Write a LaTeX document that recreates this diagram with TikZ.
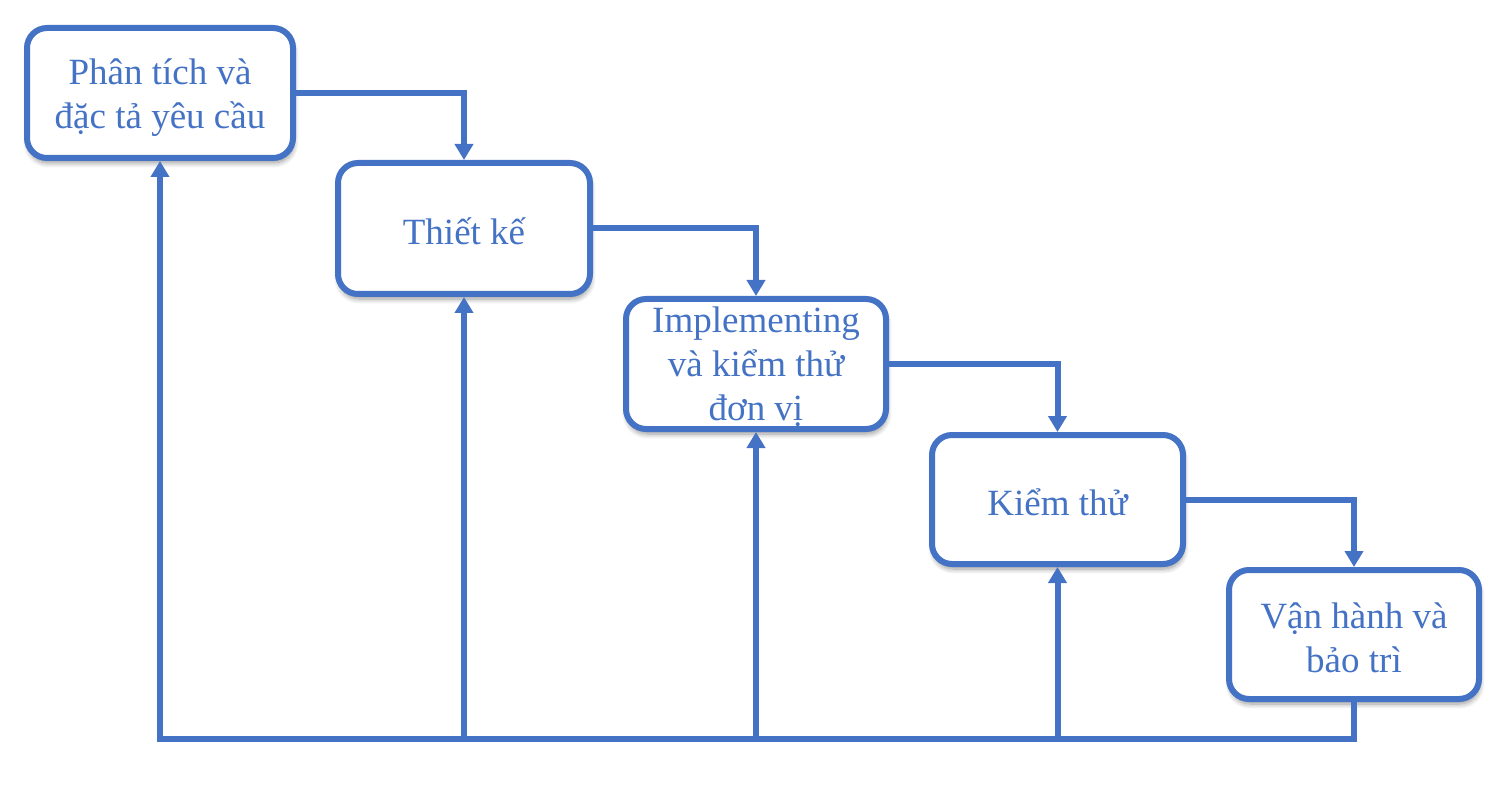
\documentclass[tikz,border=0pt]{standalone}
\usepackage{fontspec}
\setmainfont{Liberation Serif}
\usetikzlibrary{arrows.meta,shadows.blur}
\definecolor{wfblue}{HTML}{4472C4}
\tikzset{
  stagebox/.style={draw=wfblue, line width=6pt, rounded corners=20pt, fill=white,
    inner sep=0pt,
    blur shadow={shadow xshift=1pt, shadow yshift=-5pt, shadow blur radius=5pt, shadow blur steps=8, shadow opacity=40}},
  stagetext/.style={text=wfblue, align=center, inner sep=0pt,
    font=\fontsize{37}{44}\selectfont},
  conn/.style={draw=wfblue, line width=6pt, -{Triangle[width=18pt,length=16pt]}}
}
\begin{document}
\begin{tikzpicture}[x=1pt,y=-1pt]
\useasboundingbox (0,0) rectangle (1504,799);
\node[stagebox, minimum width=266pt, minimum height=130pt] (b1) at (160,93) {};
\node[stagebox, minimum width=252pt, minimum height=131pt] (b2) at (464,228.5) {};
\node[stagebox, minimum width=260pt, minimum height=130pt] (b3) at (756,364) {};
\node[stagebox, minimum width=251pt, minimum height=129pt] (b4) at (1057.5,499.5) {};
\node[stagebox, minimum width=250pt, minimum height=129pt] (b5) at (1354,634.5) {};
\node[stagetext] (t1) at ([yshift=-5pt]b1.center) {Phân tích và\\đặc tả yêu cầu};
\node[stagetext] (t2) at ([yshift=-3pt]b2.center) {Thiết kế};
\node[stagetext] (t3) at ([yshift=-3pt]b3.center) {Implementing\\và kiểm thử\\đơn vị};
\node[stagetext] (t4) at ([yshift=-3pt]b4.center) {Kiểm thử};
\node[stagetext] (t5) at ([yshift=-3pt]b5.center) {Vận hành và\\bảo trì};
\coordinate (base) at (0,738.5);
% forward flow
\draw[conn] (b1.east) -| (b2.north);
\draw[conn] (b2.east) -| (b3.north);
\draw[conn] (b3.east) -| (b4.north);
\draw[conn] (b4.east) -| (b5.north);
% feedback
\draw[conn] (b5.south) |- (base -| b1.south) -- (b1.south);
\draw[conn] (base -| b2.south) -- (b2.south);
\draw[conn] (base -| b3.south) -- (b3.south);
\draw[conn] (base -| b4.south) -- (b4.south);
\end{tikzpicture}
\end{document}
